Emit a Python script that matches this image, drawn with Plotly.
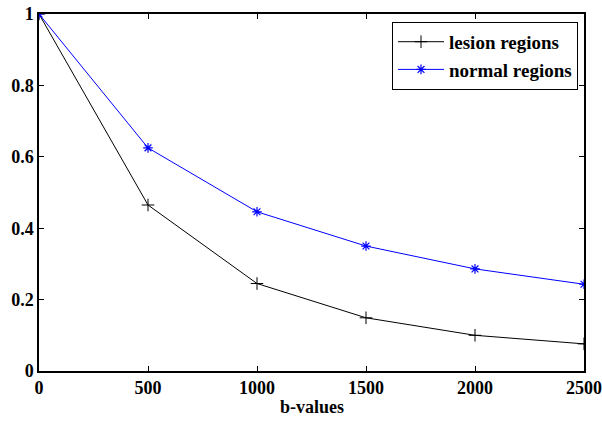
import plotly.graph_objects as go

b_values = [0, 500, 1000, 1500, 2000, 2500]
lesion = [1.0, 0.465, 0.245, 0.149, 0.100, 0.076]
normal = [1.0, 0.625, 0.446, 0.350, 0.286, 0.243]
x_ticks = [0, 500, 1000, 1500, 2000, 2500]
y_ticks = [0, 0.2, 0.4, 0.6, 0.8, 1]
y_tick_labels = ["0", "0.2", "0.4", "0.6", "0.8", "1"]
x_title = "b-values"

font_family = "Liberation Serif"

fig = go.Figure()
fig.add_trace(go.Scatter(
    x=b_values, y=lesion, mode="lines+markers", name="lesion regions",
    line=dict(color="black", width=1),
    marker=dict(symbol="cross-thin-open", size=9, color="black", line=dict(width=1, color="black")),
))
fig.add_trace(go.Scatter(
    x=b_values, y=normal, mode="lines+markers", name="normal regions",
    line=dict(color="blue", width=1),
    marker=dict(symbol="asterisk-open", size=8, color="blue", line=dict(width=1.2, color="blue")),
))

axis_common = dict(
    showline=True, linecolor="black", linewidth=1.5, mirror="ticks",
    ticks="inside", ticklen=5, tickcolor="black", tickwidth=1,
    showgrid=False, zeroline=False, automargin=False,
    tickfont=dict(family=font_family, size=18, color="black", weight="bold"),
)

fig.update_xaxes(range=[0, 2500], tickvals=x_ticks,
                 ticktext=[str(v) for v in x_ticks],
                 **axis_common)
fig.update_yaxes(range=[0, 1], tickvals=y_ticks,
                 ticktext=y_tick_labels,
                 **axis_common)

fig.add_annotation(text=x_title, xref="paper", yref="paper",
                   x=0.5, y=0, yshift=-36, xanchor="center", yanchor="middle",
                   showarrow=False, font=dict(family=font_family, size=18, color="black", weight="bold"))

fig.update_layout(
    width=602, height=421,
    margin=dict(l=39, r=18, t=14, b=50),
    paper_bgcolor="white", plot_bgcolor="white",
    font=dict(family=font_family, color="black"),
    showlegend=True,
    legend=dict(
        x=0.989, y=0.978, xanchor="right", yanchor="top",
        bordercolor="black", borderwidth=1, bgcolor="white",
        font=dict(family=font_family, size=19, color="black", weight="bold"),
        tracegroupgap=0, itemwidth=46,
    ),
)

fig.write_html("out.html")
